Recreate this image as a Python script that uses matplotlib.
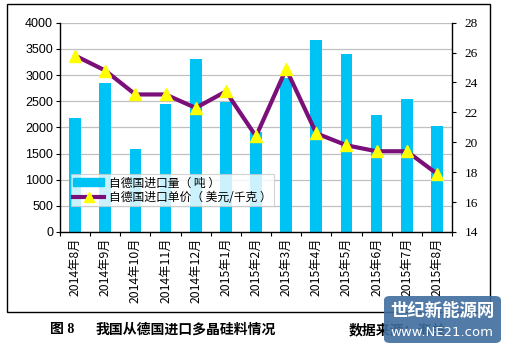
import matplotlib
matplotlib.use("Agg")
import matplotlib.pyplot as plt
import numpy as np
from matplotlib.patches import Rectangle, FancyBboxPatch
from matplotlib.lines import Line2D

categories = ["2014年8月", "2014年9月", "2014年10月", "2014年11月", "2014年12月",
              "2015年1月", "2015年2月", "2015年3月", "2015年4月", "2015年5月",
              "2015年6月", "2015年7月", "2015年8月"]
volume = [2170, 2840, 1580, 2440, 3300, 2480, 1920, 2940, 3670, 3400, 2230, 2540, 2020]
price = [25.8, 24.8, 23.2, 23.2, 22.3, 23.4, 20.4, 24.9, 20.6, 19.8, 19.4, 19.4, 17.9]
left_ticks = [0, 500, 1000, 1500, 2000, 2500, 3000, 3500, 4000]
right_ticks = [14, 16, 18, 20, 22, 24, 26, 28]

CJK = ["Noto Sans CJK SC", "DejaVu Sans"]

fig = plt.figure(figsize=(5.07, 3.5), dpi=100)
fig.patch.set_facecolor("white")

# outer frame
fig.add_artist(Rectangle((7/507, 1-312/350), (490-7)/507, (312-4)/350,
                         transform=fig.transFigure, fill=False, edgecolor="black", lw=1.0))

ax = fig.add_axes([60/507, 1-232/350, (452-60)/507, (232-22.7)/350])
x = np.arange(len(categories))
bars = ax.bar(x, volume, width=0.39, color="#00C3F5", zorder=2)
ax.set_ylim(0, 4000)
ax.set_xlim(-0.5, len(categories)-0.5)
ax.set_yticks(left_ticks)
ax.set_yticklabels([str(t) for t in left_ticks], family="Liberation Sans", fontsize=9)
ax.yaxis.grid(True, color="#C0C0C0", lw=0.9, zorder=0)
ax.set_axisbelow(True)
ax.set_xticks(np.arange(len(categories)+1)-0.5)
ax.set_xticklabels([])
ax.set_xticks(x, minor=True)
ax.set_xticklabels(categories, minor=True, rotation=90, family=CJK, fontsize=8.8)
ax.tick_params(axis="x", which="minor", length=0, pad=4)
ax.tick_params(axis="x", which="major", length=3, direction="out", width=0.8)
ax.tick_params(axis="y", length=3, direction="out", width=0.8, pad=2)
ax.spines["top"].set_visible(False)
ax.spines["right"].set_visible(False)
ax.spines["left"].set_linewidth(1.0)
ax.spines["bottom"].set_linewidth(1.0)

ax2 = ax.twinx()
ax2.plot(x, price, color="#7A0F7A", lw=3, marker="^", markersize=8,
         markerfacecolor="#FFFF00", markeredgecolor="#FFFF00", zorder=3)
ax2.set_ylim(14, 28)
ax2.set_yticks(right_ticks)
ax2.set_yticklabels([str(t) for t in right_ticks], family="Liberation Serif", fontsize=9.5)
ax2.tick_params(axis="y", length=3, direction="out", width=0.8, pad=6)
ax2.spines["top"].set_visible(False)
ax2.spines["left"].set_visible(False)
ax2.spines["bottom"].set_visible(False)
ax2.spines["right"].set_linewidth(1.0)

h1 = Rectangle((0, 0), 1, 1, color="#00C3F5")
h2 = Line2D([], [], color="#7A0F7A", lw=3, marker="^", markersize=7,
            markerfacecolor="#FFFF00", markeredgecolor="#FFFF00")
leg = ax2.legend([h1, h2], ["自德国进口量（ 吨 ）", "自德国进口单价（ 美元/千克 ）"],
                 loc="lower left", bbox_to_anchor=((71-60)/392, (232-206)/209.3),
                 prop={"family": CJK, "size": 8.5}, frameon=True, fancybox=False,
                 edgecolor="#C8C8C8", handlelength=2.6, handleheight=0.7,
                 borderpad=0.2, labelspacing=0.1, handletextpad=0.4, borderaxespad=0)
leg.get_frame().set_linewidth(0.8)

# caption
fig.text(50/507, 1-330/350, "图 8", family=["Liberation Serif", "Noto Sans CJK SC"],
         fontsize=10, fontweight="bold", va="center", ha="left")
fig.text(96/507, 1-330/350, "我国从德国进口多晶硅料情况", family=CJK,
         fontsize=10, fontweight="bold", va="center", ha="left")
fig.text(349/507, 1-330/350, "数据来源：海关", family=CJK,
         fontsize=10, fontweight="bold", va="center", ha="left")

# watermark
fig.add_artist(FancyBboxPatch((384/507, 1-343/350), (501-384)/507, (343-296)/350,
                              boxstyle="round,pad=0,rounding_size=0.012",
                              transform=fig.transFigure, facecolor="#3F6E9E",
                              edgecolor="none", alpha=0.9, zorder=5))
fig.text(442/507, 1-311/350, "世纪新能源网", family=CJK, fontsize=12.5,
         fontweight="bold", color="white", ha="center", va="center", zorder=6)
fig.text(442/507, 1-332/350, "www.NE21.com", family="DejaVu Sans", fontsize=9.5,
         color="white", ha="center", va="center", zorder=6)

fig.savefig("out.png", dpi=100)
